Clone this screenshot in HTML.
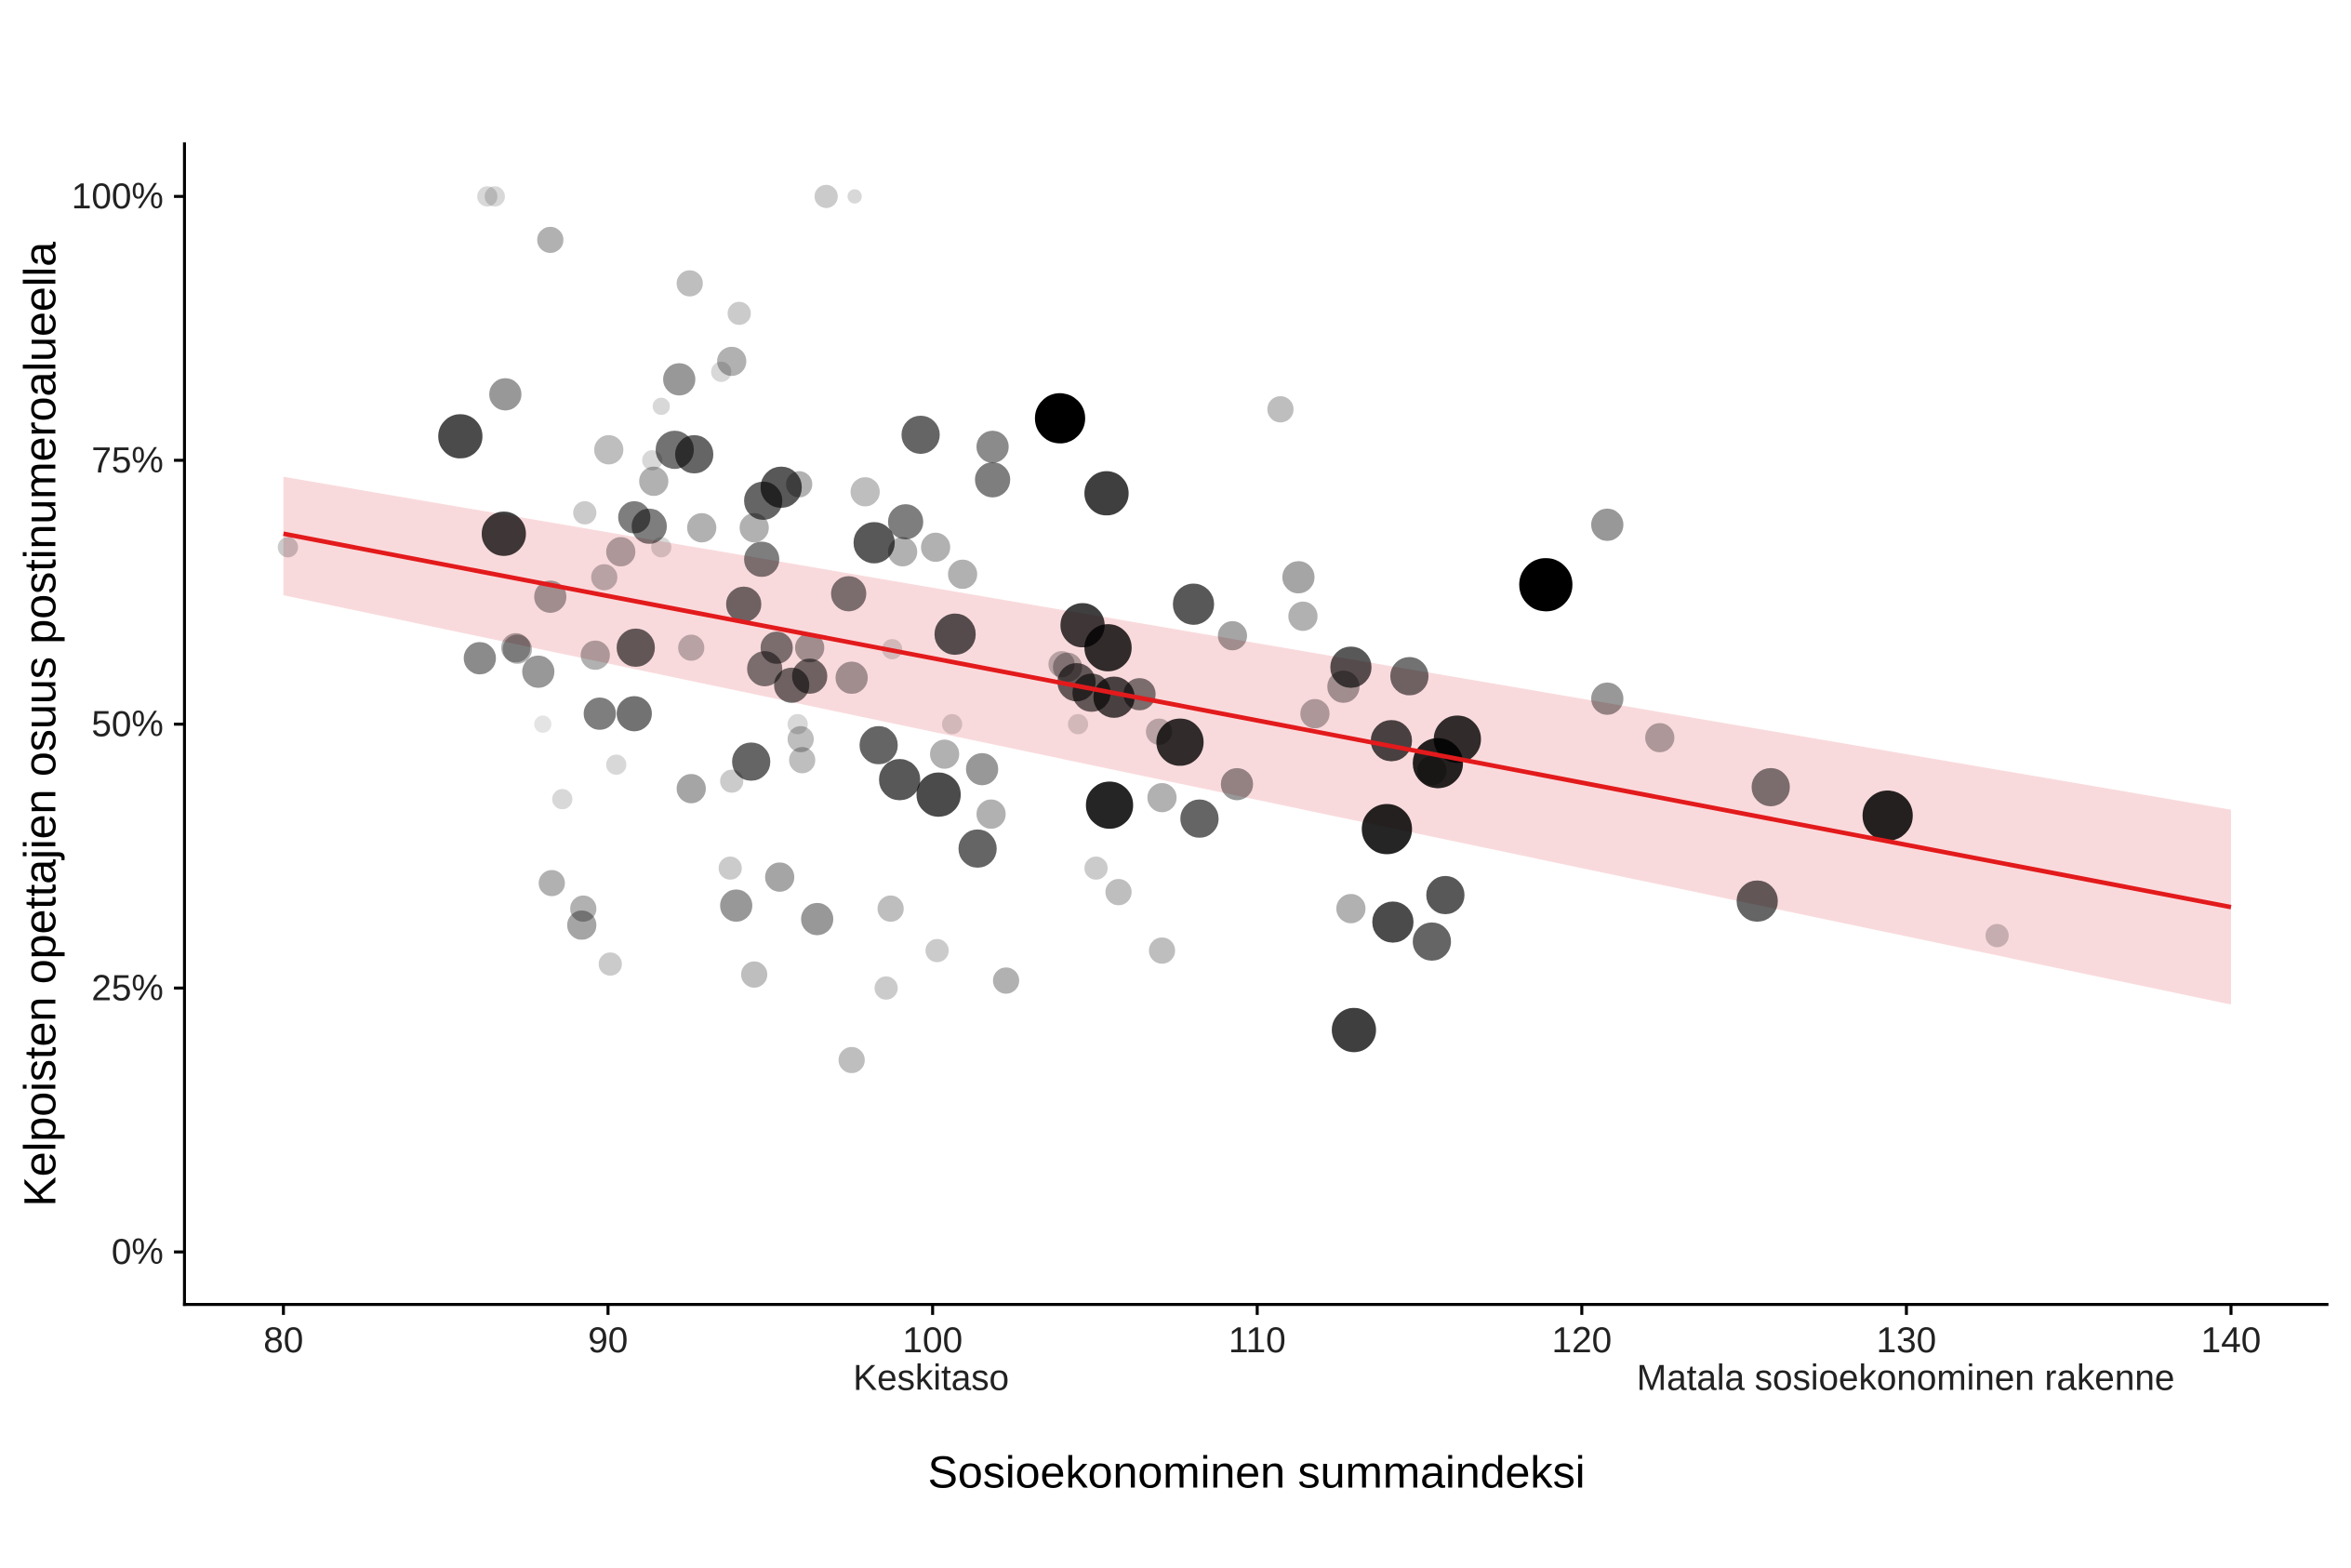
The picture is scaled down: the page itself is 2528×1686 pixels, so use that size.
<!DOCTYPE html>
<html><head><meta charset="utf-8"><style>html,body{margin:0;padding:0;background:#fff}svg{display:block}#pts circle{fill:#000;stroke:#000;stroke-width:1.5}</style></head>
<body>
<svg width="2528" height="1686" viewBox="0 0 1568 1045.8" xmlns="http://www.w3.org/2000/svg" font-family="Liberation Sans, Arial, sans-serif">
<rect width="1568" height="1046" fill="#fff"/>
<polygon points="189,318 1488,540 1488,670 189,397" fill="#f4b6ba" opacity="0.5"/>
<g id="pts">
<circle cx="325" cy="131" r="6" opacity=".15"/><circle cx="330" cy="131" r="6" opacity=".15"/><circle cx="551" cy="131" r="7" opacity=".2"/><circle cx="570" cy="131" r="4" opacity=".15"/><circle cx="367" cy="160" r="8" opacity=".3"/><circle cx="460" cy="189" r="8" opacity=".25"/><circle cx="493" cy="209" r="7" opacity=".2"/><circle cx="488" cy="241" r="9" opacity=".3"/><circle cx="481" cy="248" r="6" opacity=".15"/><circle cx="441" cy="271" r="5" opacity=".15"/><circle cx="854" cy="273" r="8" opacity=".25"/><circle cx="406" cy="300" r="9" opacity=".25"/><circle cx="435" cy="307" r="6" opacity=".15"/><circle cx="436" cy="321" r="9" opacity=".3"/><circle cx="533" cy="323" r="8" opacity=".3"/><circle cx="577" cy="328" r="9" opacity=".25"/><circle cx="390" cy="342" r="7" opacity=".2"/><circle cx="468" cy="352" r="9" opacity=".3"/><circle cx="503" cy="352" r="9" opacity=".3"/><circle cx="602" cy="368" r="9" opacity=".3"/><circle cx="624" cy="365" r="9" opacity=".3"/><circle cx="441" cy="365" r="6" opacity=".15"/><circle cx="414" cy="368" r="9" opacity=".3"/><circle cx="642" cy="383" r="9" opacity=".3"/><circle cx="192" cy="365" r="6" opacity=".2"/><circle cx="403" cy="385" r="8" opacity=".25"/><circle cx="367" cy="398" r="10" opacity=".35"/><circle cx="866" cy="385" r="10" opacity=".35"/><circle cx="869" cy="411" r="9" opacity=".3"/><circle cx="822" cy="424" r="9" opacity=".35"/><circle cx="344" cy="432" r="9" opacity=".3"/><circle cx="461" cy="432" r="8" opacity=".25"/><circle cx="397" cy="437" r="9" opacity=".3"/><circle cx="595" cy="433" r="6" opacity=".15"/><circle cx="708" cy="443" r="8" opacity=".25"/><circle cx="568" cy="452" r="10" opacity=".35"/><circle cx="896" cy="458" r="10" opacity=".35"/><circle cx="877" cy="476" r="9" opacity=".3"/><circle cx="1072" cy="466" r="10" opacity=".4"/><circle cx="1072" cy="350" r="10" opacity=".4"/><circle cx="362" cy="483" r="5" opacity=".1"/><circle cx="635" cy="483" r="6" opacity=".15"/><circle cx="532" cy="483" r="6" opacity=".15"/><circle cx="534" cy="493" r="8" opacity=".25"/><circle cx="719" cy="483" r="6" opacity=".15"/><circle cx="630" cy="503" r="9" opacity=".3"/><circle cx="411" cy="510" r="6" opacity=".15"/><circle cx="535" cy="507" r="8" opacity=".25"/><circle cx="1107" cy="492" r="9" opacity=".3"/><circle cx="773" cy="488" r="8" opacity=".25"/><circle cx="375" cy="533" r="6" opacity=".15"/><circle cx="461" cy="526" r="9" opacity=".35"/><circle cx="488" cy="521" r="7" opacity=".2"/><circle cx="661" cy="543" r="9" opacity=".3"/><circle cx="775" cy="532" r="9" opacity=".3"/><circle cx="825" cy="523" r="10" opacity=".4"/><circle cx="655" cy="513" r="10" opacity=".4"/><circle cx="487" cy="579" r="7" opacity=".2"/><circle cx="731" cy="579" r="7" opacity=".2"/><circle cx="520" cy="585" r="9" opacity=".35"/><circle cx="368" cy="589" r="8" opacity=".3"/><circle cx="746" cy="595" r="8" opacity=".25"/><circle cx="389" cy="606" r="8" opacity=".3"/><circle cx="388" cy="617" r="9" opacity=".35"/><circle cx="491" cy="604" r="10" opacity=".4"/><circle cx="545" cy="613" r="10" opacity=".4"/><circle cx="594" cy="606" r="8" opacity=".25"/><circle cx="901" cy="606" r="9" opacity=".3"/><circle cx="407" cy="643" r="7" opacity=".2"/><circle cx="625" cy="634" r="7" opacity=".2"/><circle cx="775" cy="634" r="8" opacity=".25"/><circle cx="503" cy="650" r="8" opacity=".25"/><circle cx="671" cy="654" r="8" opacity=".3"/><circle cx="591" cy="659" r="7" opacity=".2"/><circle cx="568" cy="707" r="8" opacity=".25"/><circle cx="1332" cy="624" r="7" opacity=".2"/><circle cx="955" cy="514" r="9" opacity=".3"/><circle cx="1181" cy="525" r="12" opacity=".5"/><circle cx="1172" cy="601" r="13" opacity=".6"/><circle cx="940" cy="451" r="12" opacity=".55"/><circle cx="712" cy="445" r="9" opacity=".3"/>
<circle cx="307" cy="291" r="14" opacity=".7"/><circle cx="337" cy="263" r="10" opacity=".4"/><circle cx="336" cy="356" r="14" opacity=".75"/><circle cx="320" cy="439" r="10" opacity=".45"/><circle cx="345" cy="433" r="9" opacity=".3"/><circle cx="359" cy="448" r="10" opacity=".4"/><circle cx="400" cy="476" r="10" opacity=".5"/><circle cx="423" cy="476" r="11" opacity=".55"/><circle cx="424" cy="432" r="12" opacity=".6"/><circle cx="423" cy="345" r="10" opacity=".5"/><circle cx="433" cy="351" r="11" opacity=".5"/><circle cx="453" cy="253" r="10" opacity=".4"/><circle cx="450" cy="300" r="12" opacity=".55"/><circle cx="463" cy="303" r="12" opacity=".6"/><circle cx="496" cy="403" r="11" opacity=".55"/><circle cx="509" cy="334" r="12" opacity=".6"/><circle cx="521" cy="325" r="13" opacity=".65"/><circle cx="508" cy="373" r="11" opacity=".5"/><circle cx="510" cy="446" r="11" opacity=".5"/><circle cx="518" cy="432" r="10" opacity=".5"/><circle cx="528" cy="457" r="11" opacity=".55"/><circle cx="540" cy="451" r="11" opacity=".55"/><circle cx="540" cy="432" r="9" opacity=".35"/><circle cx="501" cy="508" r="12" opacity=".6"/><circle cx="566" cy="396" r="11" opacity=".5"/><circle cx="583" cy="362" r="13" opacity=".65"/><circle cx="604" cy="348" r="11" opacity=".5"/><circle cx="614" cy="290" r="12" opacity=".6"/><circle cx="586" cy="497" r="12" opacity=".6"/><circle cx="600" cy="520" r="13" opacity=".65"/><circle cx="626" cy="530" r="14" opacity=".7"/><circle cx="637" cy="423" r="13" opacity=".65"/><circle cx="652" cy="566" r="12" opacity=".6"/><circle cx="662" cy="298" r="10" opacity=".45"/><circle cx="662" cy="320" r="11" opacity=".5"/><circle cx="707" cy="279" r="16" opacity="1"/><circle cx="738" cy="329" r="14" opacity=".75"/><circle cx="722" cy="417" r="14" opacity=".75"/><circle cx="739" cy="432" r="15" opacity=".8"/><circle cx="718" cy="455" r="12" opacity=".6"/><circle cx="728" cy="462" r="12" opacity=".6"/><circle cx="743" cy="465" r="13" opacity=".7"/><circle cx="760" cy="463" r="10" opacity=".5"/><circle cx="740" cy="537" r="15" opacity=".85"/><circle cx="787" cy="495" r="15" opacity=".8"/><circle cx="796" cy="403" r="13" opacity=".65"/><circle cx="800" cy="546" r="12" opacity=".6"/><circle cx="901" cy="445" r="13" opacity=".65"/><circle cx="928" cy="494" r="13" opacity=".7"/><circle cx="925" cy="553" r="16" opacity=".85"/><circle cx="929" cy="615" r="13" opacity=".7"/><circle cx="955" cy="628" r="12" opacity=".6"/><circle cx="964" cy="597" r="12" opacity=".65"/><circle cx="959" cy="509" r="16" opacity=".85"/><circle cx="972" cy="493" r="15" opacity=".8"/><circle cx="903" cy="687" r="14" opacity=".75"/><circle cx="1031" cy="390" r="17" opacity="1"/><circle cx="1259" cy="544" r="16" opacity=".85"/>
</g>
<line x1="189" y1="356" x2="1488" y2="605" stroke="#e31a1c" stroke-width="3"/>
<line x1="123" y1="95" x2="123" y2="871" stroke="#000" stroke-width="2"/>
<line x1="122" y1="870" x2="1553" y2="870" stroke="#000" stroke-width="2"/>
<g stroke="#000" stroke-width="2">
<line x1="116" y1="131" x2="123" y2="131"/><line x1="116" y1="307" x2="123" y2="307"/><line x1="116" y1="483" x2="123" y2="483"/><line x1="116" y1="659" x2="123" y2="659"/><line x1="116" y1="835" x2="123" y2="835"/>
<line x1="189" y1="870" x2="189" y2="877"/><line x1="405.5" y1="870" x2="405.5" y2="877"/><line x1="622" y1="870" x2="622" y2="877"/><line x1="838.5" y1="870" x2="838.5" y2="877"/><line x1="1055" y1="870" x2="1055" y2="877"/><line x1="1271.5" y1="870" x2="1271.5" y2="877"/><line x1="1488" y1="870" x2="1488" y2="877"/>
</g>
<g font-size="24" fill="#222" text-anchor="end">
<text x="109" y="139">100%</text><text x="109" y="315">75%</text><text x="109" y="491">50%</text><text x="109" y="667">25%</text><text x="109" y="843">0%</text>
</g>
<g font-size="24" fill="#222" text-anchor="middle">
<text x="189" y="902">80</text><text x="405.5" y="902">90</text><text x="622" y="902">100</text><text x="838.5" y="902">110</text><text x="1055" y="902">120</text><text x="1271.5" y="902">130</text><text x="1488" y="902">140</text>
<text x="621" y="927">Keskitaso</text><text x="1271" y="927">Matala sosioekonominen rakenne</text>
</g>
<text x="838" y="992" font-size="30" text-anchor="middle" fill="#000">Sosioekonominen summaindeksi</text>
<text transform="translate(37,483) rotate(-90)" font-size="30" text-anchor="middle" fill="#000">Kelpoisten opettajien osuus postinumeroalueella</text>
</svg>
</body></html>
